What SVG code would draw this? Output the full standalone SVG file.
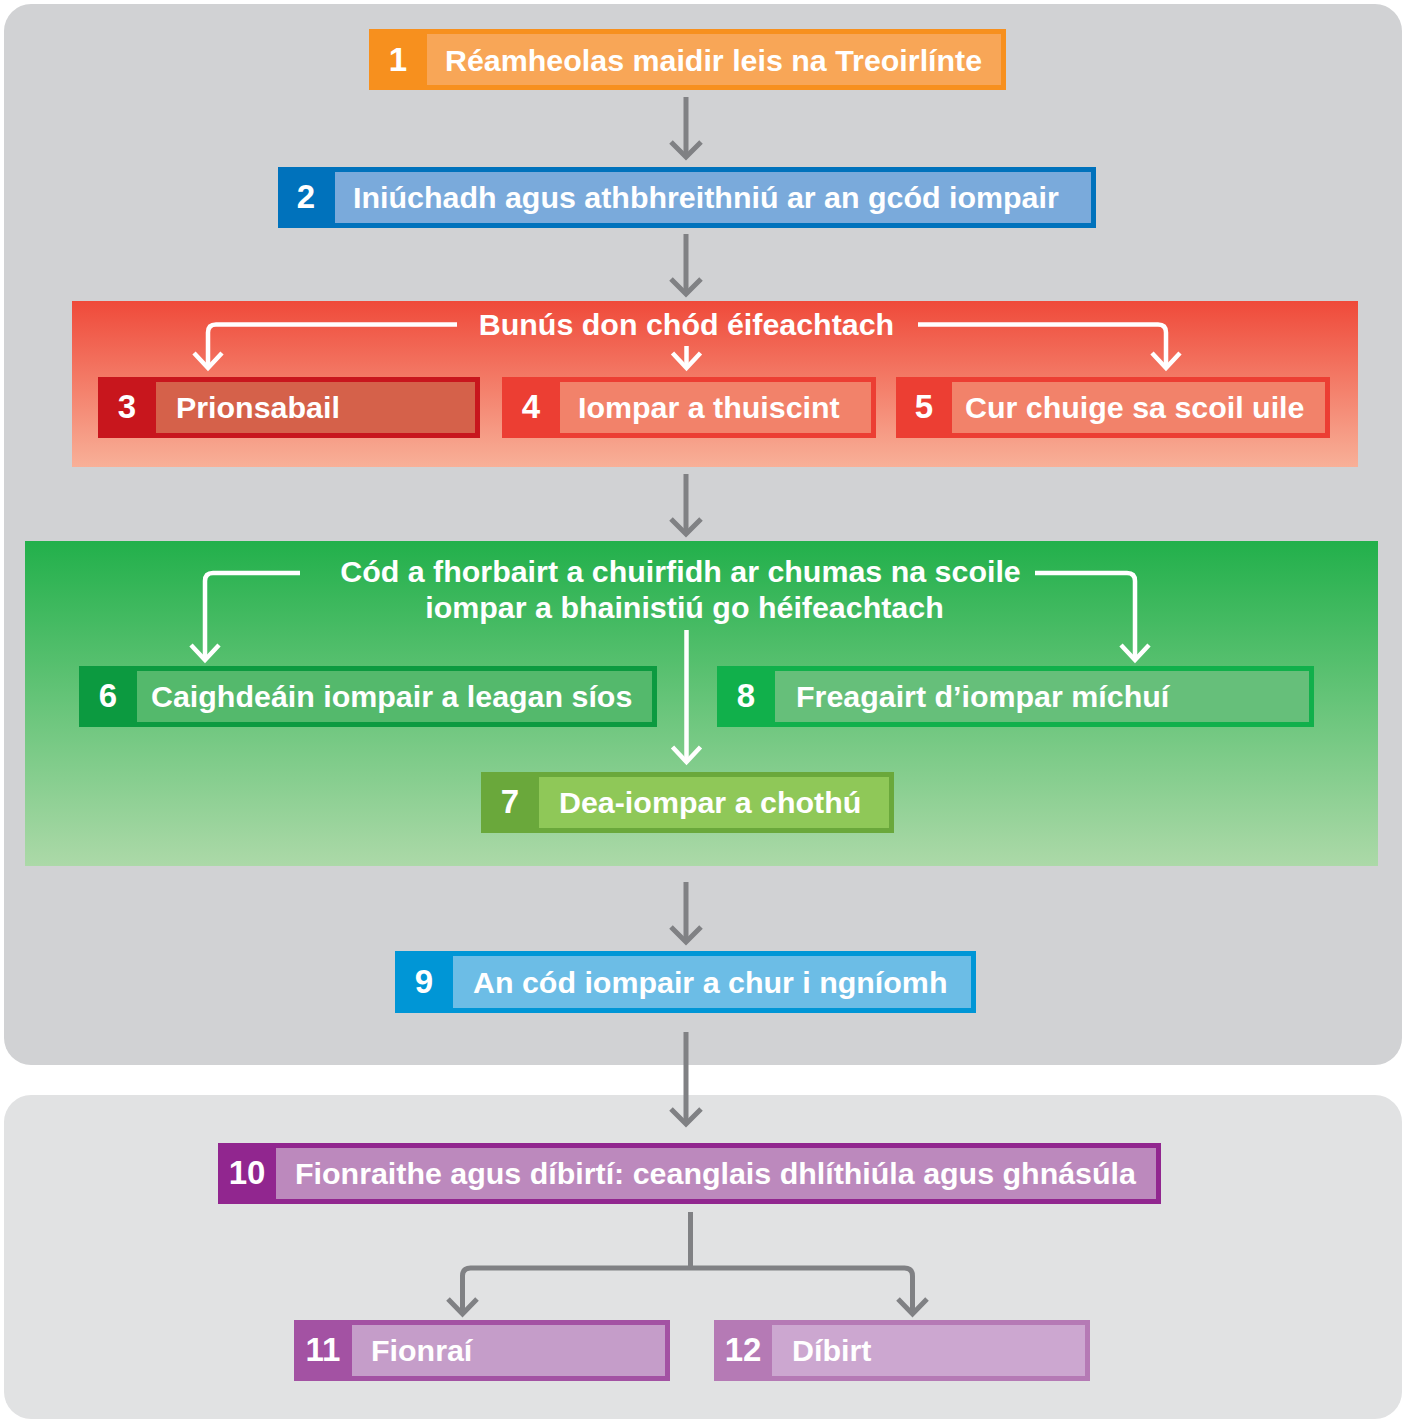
<svg xmlns="http://www.w3.org/2000/svg" width="1408" height="1419" viewBox="0 0 1408 1419">
<defs>
<linearGradient id="gRed" x1="0" y1="0" x2="0" y2="1">
<stop offset="0" stop-color="#ef4a3a"/>
<stop offset="1" stop-color="#f8b098"/>
</linearGradient>
<linearGradient id="gGreen" x1="0" y1="0" x2="0" y2="1">
<stop offset="0" stop-color="#22b04b"/>
<stop offset="1" stop-color="#acd9a8"/>
</linearGradient>
<style>
text{font-family:"Liberation Sans",Arial,Helvetica,sans-serif;font-weight:bold;fill:#ffffff}
.lbl{font-size:30.4px}
.num{font-size:33px;text-anchor:middle}
.head{font-size:30.4px;text-anchor:middle}
.gray{fill:none;stroke:#808184;stroke-width:5}
.wht{fill:none;stroke:#ffffff;stroke-width:4.5}
.tip{stroke-linejoin:miter;stroke-miterlimit:10}
</style>
</defs>
<rect width="1408" height="1419" fill="#ffffff"/>
<g id="panel-top"><rect x="4" y="4" width="1398" height="1061" rx="27" fill="#d1d2d4"/></g>
<g id="panel-bottom"><rect x="4" y="1095" width="1398" height="324" rx="27" fill="#e1e2e3"/></g>
<g id="panel-red"><rect x="72" y="301" width="1286" height="166" fill="url(#gRed)"/>
<text class="head" x="686.5" y="335">Bunús don chód éifeachtach</text></g>
<g id="panel-green"><rect x="25" y="541" width="1353" height="325" fill="url(#gGreen)"/>
<text class="head" x="680.5" y="582">Cód a fhorbairt a chuirfidh ar chumas na scoile</text>
<text class="head" x="684.5" y="618">iompar a bhainistiú go héifeachtach</text></g>

<g id="connectors">
<path class="gray" d="M686 97V156"/><polyline class="gray tip" points="671,142 686,157 701,142"/>
<path class="gray" d="M686 234V293"/><polyline class="gray tip" points="671,279 686,294 701,279"/>
<path class="gray" d="M686 474V533"/><polyline class="gray tip" points="671,519 686,534 701,519"/>
<path class="gray" d="M686 882V941"/><polyline class="gray tip" points="671,927 686,942 701,927"/>
<path class="gray" d="M686 1032V1123"/><polyline class="gray tip" points="671,1109 686,1124 701,1109"/>
<path class="gray" d="M690.5 1212V1268M462.5 1313V1276Q462.5 1268 470.5 1268H904.5Q912.5 1268 912.5 1276V1313"/>
<polyline class="gray tip" points="448,1299 462.5,1314 477,1299"/>
<polyline class="gray tip" points="898,1299 912.5,1314 927,1299"/>
<path class="wht" d="M457 324.5H216Q208 324.5 208 332.5V367"/><polyline class="wht tip" points="194,353 208,368 222,353"/>
<path class="wht" d="M686.5 346V367"/><polyline class="wht tip" points="672.5,353 686.5,368 700.5,353"/>
<path class="wht" d="M918 324.5H1158Q1166 324.5 1166 332.5V367"/><polyline class="wht tip" points="1152,353 1166,368 1180,353"/>
<path class="wht" d="M300 573H213Q205 573 205 581V658"/><polyline class="wht tip" points="191,645 205,660 219,645"/>
<path class="wht" d="M686.5 630V760"/><polyline class="wht tip" points="672.5,747 686.5,762 700.5,747"/>
<path class="wht" d="M1035 573H1127Q1135 573 1135 581V658"/><polyline class="wht tip" points="1121,645 1135,660 1149,645"/>
</g>

<g id="node1"><rect x="369" y="29" width="637" height="61" fill="#f7901e"/><rect x="427" y="34" width="574" height="51" fill="#f8a657"/>
<text class="num" x="398" y="71">1</text><text class="lbl" x="445" y="71">Réamheolas maidir leis na Treoirlínte</text></g>
<g id="node2"><rect x="278" y="167" width="818" height="61" fill="#0072bc"/><rect x="335" y="172" width="756" height="51" fill="#7aaadb"/>
<text class="num" x="306" y="208">2</text><text class="lbl" x="353" y="208">Iniúchadh agus athbhreithniú ar an gcód iompair</text></g>
<g id="node3"><rect x="98" y="377" width="382" height="61" fill="#c8161d"/><rect x="156" y="382" width="319" height="51" fill="#d5614a"/>
<text class="num" x="127" y="418">3</text><text class="lbl" x="176" y="418">Prionsabail</text></g>
<g id="node4"><rect x="502" y="377" width="374" height="61" fill="#ec3e33"/><rect x="560" y="382" width="311" height="51" fill="#f2826a"/>
<text class="num" x="531" y="418">4</text><text class="lbl" x="578" y="418">Iompar a thuiscint</text></g>
<g id="node5"><rect x="896" y="377" width="434" height="61" fill="#ec3e33"/><rect x="952" y="382" width="373" height="51" fill="#f2826a"/>
<text class="num" x="924" y="418">5</text><text class="lbl" x="965" y="418">Cur chuige sa scoil uile</text></g>
<g id="node6"><rect x="79" y="666" width="578" height="61" fill="#0c9a40"/><rect x="137" y="671" width="515" height="51" fill="#54b96c"/>
<text class="num" x="108" y="707">6</text><text class="lbl" x="151" y="707">Caighdeáin iompair a leagan síos</text></g>
<g id="node8"><rect x="717" y="666" width="597" height="61" fill="#11b04b"/><rect x="775" y="671" width="534" height="51" fill="#66bf7a"/>
<text class="num" x="746" y="707">8</text><text class="lbl" x="796" y="707">Freagairt d’iompar míchuí</text></g>
<g id="node7"><rect x="481" y="772" width="413" height="61" fill="#6aa83b"/><rect x="539" y="777" width="350" height="51" fill="#8fc858"/>
<text class="num" x="510" y="813">7</text><text class="lbl" x="559" y="813">Dea-iompar a chothú</text></g>
<g id="node9"><rect x="395" y="951" width="581" height="62" fill="#0096d6"/><rect x="453" y="956" width="518" height="52" fill="#6cbde6"/>
<text class="num" x="424" y="993">9</text><text class="lbl" x="473" y="993">An cód iompair a chur i ngníomh</text></g>
<g id="node10"><rect x="218" y="1143" width="943" height="61" fill="#91268f"/><rect x="276" y="1148" width="880" height="51" fill="#bc89bd"/>
<text class="num" x="247" y="1184">10</text><text class="lbl" x="295" y="1184">Fionraithe agus díbirtí: ceanglais dhlíthiúla agus ghnásúla</text></g>
<g id="node11"><rect x="294" y="1320" width="376" height="61" fill="#a352a3"/><rect x="352" y="1325" width="313" height="51" fill="#c59dc9"/>
<text class="num" x="323" y="1361">11</text><text class="lbl" x="371" y="1361">Fionraí</text></g>
<g id="node12"><rect x="714" y="1320" width="376" height="61" fill="#b57ab5"/><rect x="772" y="1325" width="313" height="51" fill="#cca7d0"/>
<text class="num" x="743" y="1361">12</text><text class="lbl" x="792" y="1361">Díbirt</text></g>
</svg>
